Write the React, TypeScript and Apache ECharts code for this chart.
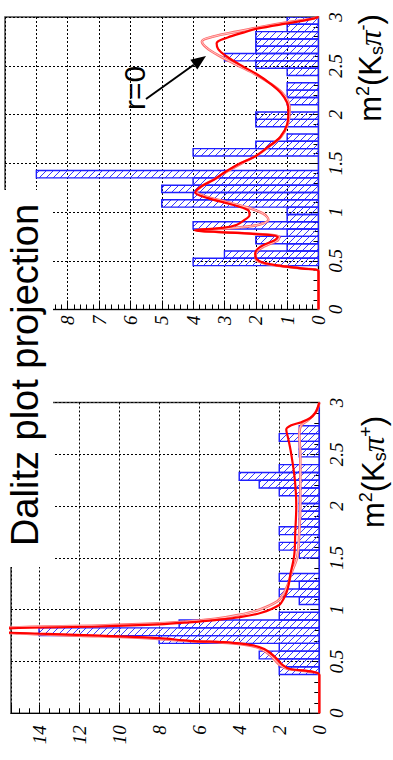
import React, { useEffect, useRef } from 'react';
import * as echarts from 'echarts';

// ---- data -------------------------------------------------------------
const BIN_WIDTH = 0.075; // 40 bins from 0 to 3 GeV^2

// m^2(Ks pi-) histogram (top-right panel)
const kmCounts = [
  0, 0, 0, 0, 0, 0, 4, 3, 1, 2,
  1, 4, 1, 1, 5, 4, 5, 4, 9, 0,
  0, 4, 2, 1, 0, 2, 2, 0, 1, 1,
  1, 0, 1, 2, 3, 2, 2, 2, 1, 1,
];

// m^2(Ks pi+) histogram (bottom-left panel)
const kpCounts = [
  0, 0, 0, 0, 0, 2, 2, 3, 2, 8,
  14, 7, 2, 0, 1, 2, 1, 2, 0, 0,
  1, 2, 1, 2, 1, 1, 1, 1, 2, 3,
  4, 2, 0, 1, 1, 2, 1, 0, 0, 0,
];

// fit projections: [m^2, events per bin]
const kmFit: [number, number][] = [
  [0, 0], [0.39, 0], [0.42, 0.5], [0.45, 1.25], [0.48, 1.75], [0.515, 1.97], [0.575, 2.02],
  [0.645, 1.85], [0.71, 1.4], [0.745, 1.3], [0.78, 2.3], [0.812, 3.95], [0.84, 3.0],
  [0.87, 2.6], [0.91, 2.4], [0.97, 2.2], [1.02, 2.25], [1.08, 2.8], [1.14, 3.5], [1.2, 3.93],
  [1.26, 3.75], [1.33, 3.35], [1.4, 3.03], [1.5, 2.5], [1.57, 2.02], [1.67, 1.6], [1.77, 1.22],
  [1.9, 1.0], [2.04, 0.96], [2.12, 1.0], [2.22, 1.2], [2.32, 1.55], [2.41, 1.95], [2.5, 2.45],
  [2.6, 2.95], [2.67, 3.2], [2.73, 3.25], [2.79, 2.9], [2.84, 2.4], [2.88, 1.96], [2.94, 0.9],
  [2.98, 0.2], [3, 0],
];
const kmFitR0: [number, number][] = [
  [0, 0], [0.39, 0], [0.42, 0.5], [0.45, 1.3], [0.48, 1.8], [0.515, 2.0], [0.575, 2.0],
  [0.645, 1.75], [0.71, 1.3], [0.745, 1.25], [0.78, 2.2], [0.812, 3.9], [0.84, 2.6],
  [0.87, 1.9], [0.92, 1.6], [0.98, 1.75], [1.04, 2.2], [1.1, 2.9], [1.16, 3.6], [1.21, 3.9],
  [1.27, 3.7], [1.33, 3.35], [1.4, 3.0], [1.5, 2.45], [1.57, 2.02], [1.67, 1.58], [1.77, 1.2],
  [1.9, 0.98], [2.04, 0.92], [2.12, 0.95], [2.22, 1.15], [2.32, 1.55], [2.41, 2.0], [2.5, 2.55],
  [2.6, 3.15], [2.68, 3.55], [2.75, 3.72], [2.8, 3.35], [2.85, 2.6], [2.9, 1.8], [2.95, 0.9],
  [2.98, 0.25], [3, 0],
];
const kpFit: [number, number][] = [
  [0, 0], [0.37, 0], [0.4, 0.3], [0.43, 1.5], [0.47, 1.85], [0.5, 2.0], [0.56, 2.3],
  [0.62, 2.75], [0.655, 3.3], [0.68, 4.3], [0.7, 6.5], [0.725, 8.0], [0.75, 11], [0.77, 14],
  [0.795, 17.5], [0.82, 15.5], [0.838, 11], [0.858, 8], [0.878, 6.5], [0.9, 5.2], [0.927, 4],
  [0.97, 2.9], [1.045, 2.0], [1.1, 1.8], [1.17, 1.63], [1.25, 1.52], [1.335, 1.45], [1.53, 1.25],
  [1.75, 1.2], [2.0, 1.15], [2.25, 1.22], [2.5, 1.4], [2.65, 1.55], [2.74, 1.65], [2.78, 1.4],
  [2.81, 0.9], [2.85, 0.45], [2.9, 0.2], [2.95, 0.08], [3, 0],
];
const kpFitR0: [number, number][] = [
  [0, 0], [0.37, 0], [0.4, 0.4], [0.43, 1.6], [0.47, 2.0], [0.5, 2.15], [0.56, 2.45],
  [0.62, 2.9], [0.655, 3.5], [0.68, 4.6], [0.7, 6.8], [0.725, 8.6], [0.75, 12], [0.77, 15],
  [0.8, 17], [0.828, 15.6], [0.848, 11], [0.868, 8], [0.888, 6.5], [0.912, 5.2], [0.95, 4],
  [1.0, 3.0], [1.08, 2.1], [1.15, 1.8], [1.25, 1.55], [1.35, 1.4], [1.51, 1.1], [1.75, 1.0],
  [2.0, 0.95], [2.25, 0.95], [2.5, 0.95], [2.7, 1.0], [2.78, 0.9], [2.83, 0.55], [2.9, 0.2],
  [2.95, 0.07], [3, 0],
];

const kmAxisMax = 10;
const kpAxisMax = 15.4;
const m2Max = 3;

// ---- helpers -----------------------------------------------------------
const HATCH_STEP = 7;
const HATCH_COLOR = '#3a3aff';
const OUTLINE_COLOR = '#1f1fff';

function binData(counts: number[]) {
  const first = counts.findIndex((c) => c > 0);
  return counts
    .map((c, i) => [i * BIN_WIDTH, (i + 1) * BIN_WIDTH, c])
    .filter((_, i) => i >= first);
}

function renderHatchedBin(_params: any, api: any) {
  const lo = api.value(0);
  const hi = api.value(1);
  const v = api.value(2);
  const a = api.coord([0, lo]);
  const b = api.coord([v, hi]);
  const x0 = Math.min(a[0], b[0]);
  const x1 = Math.max(a[0], b[0]);
  const y0 = Math.min(a[1], b[1]);
  const y1 = Math.max(a[1], b[1]);
  const children: any[] = [];
  if (x1 - x0 > 0.5) {
    const cStart = Math.ceil((x0 + y0) / HATCH_STEP) * HATCH_STEP;
    for (let c = cStart; c <= x1 + y1; c += HATCH_STEP) {
      const xa = Math.max(x0, c - y1);
      const xb = Math.min(x1, c - y0);
      if (xb - xa > 0.3) {
        children.push({
          type: 'line',
          shape: { x1: xa, y1: c - xa, x2: xb, y2: c - xb },
          style: { stroke: HATCH_COLOR, lineWidth: 1 },
        });
      }
    }
  }
  children.push({
    type: 'rect',
    shape: { x: x0, y: y0, width: x1 - x0, height: y1 - y0 },
    style: { fill: 'none', stroke: OUTLINE_COLOR, lineWidth: 1.4 },
  });
  return { type: 'group', children };
}

const labelFont = {
  fontFamily: '"Liberation Serif", serif',
  fontStyle: 'italic' as const,
  fontSize: 19,
  color: '#000',
};
const dashed = { color: '#000', width: 1, type: [2, 2] as number[] };

function valueAxis(gridIndex: number, max: number, interval: number, minorSplit: number, margin: number) {
  return {
    gridIndex,
    type: 'value',
    inverse: true,
    min: 0,
    max,
    interval,
    position: 'bottom',
    axisLine: { show: true, onZero: false, lineStyle: { color: '#000', width: 1 } },
    axisTick: { show: true, inside: true, length: 9, lineStyle: { color: '#000' } },
    minorTick: { show: true, splitNumber: minorSplit, length: 5, lineStyle: { color: '#000' } },
    axisLabel: { ...labelFont, rotate: 90, margin, showMaxLabel: false },
    splitLine: { show: true, lineStyle: dashed },
  };
}

function m2Axis(gridIndex: number, margin: number) {
  return {
    gridIndex,
    type: 'value',
    min: 0,
    max: m2Max,
    interval: 0.5,
    position: 'right',
    axisLine: { show: true, onZero: false, lineStyle: { color: '#000', width: 1 } },
    axisTick: { show: true, inside: true, length: 9, lineStyle: { color: '#000' } },
    minorTick: { show: true, splitNumber: 5, length: 5, lineStyle: { color: '#000' } },
    axisLabel: { ...labelFont, rotate: 90, margin },
    splitLine: { show: true, lineStyle: dashed },
  };
}

function curveSeries(axis: number, pts: [number, number][], color: string, width: number, z: number) {
  return {
    type: 'line',
    xAxisIndex: axis,
    yAxisIndex: axis,
    data: pts.map(([m, v]) => [v, m]),
    symbol: 'none',
    showSymbol: false,
    smooth: 0.35,
    clip: true,
    silent: true,
    z,
    lineStyle: { color, width },
  };
}

function histSeries(axis: number, counts: number[]) {
  return {
    type: 'custom',
    coordinateSystem: 'cartesian2d',
    xAxisIndex: axis,
    yAxisIndex: axis,
    encode: { x: 2, y: [0, 1] },
    data: binData(counts),
    renderItem: renderHatchedBin,
    clip: true,
    silent: true,
    z: 2,
  };
}

function axisTitle(x: number, y: number, charge: string) {
  return {
    type: 'text',
    x,
    y,
    rotation: Math.PI / 2,
    z: 110,
    style: {
      text: `{m|m}{sup|2}{m|(K}{sub|s}{pi|π}{sup|${charge}}{m|)}`,
      align: 'center',
      verticalAlign: 'middle',
      fill: '#000',
      rich: {
        m: { fontSize: 31, fontFamily: '"Liberation Sans", sans-serif', lineHeight: 32, fill: '#000' },
        pi: { fontSize: 31, fontFamily: '"Liberation Serif", serif', fontStyle: 'italic', lineHeight: 32, fill: '#000' },
        sup: { fontSize: 18, fontFamily: '"Liberation Sans", sans-serif', lineHeight: 18, verticalAlign: 'top', fill: '#000' },
        sub: { fontSize: 18, fontFamily: '"Liberation Sans", sans-serif', lineHeight: 18, verticalAlign: 'bottom', fill: '#000' },
      },
    },
  };
}

export default function App() {
  const ref = useRef<HTMLDivElement>(null);

  useEffect(() => {
    if (!ref.current) return;
    const chart = echarts.init(ref.current, undefined, { renderer: 'svg' });

    // arrow geometry for the "r=0" annotation
    const tip = [206, 56];
    const tail = [146, 99];
    const dx = tip[0] - tail[0];
    const dy = tip[1] - tail[1];
    const len = Math.hypot(dx, dy);
    const ux = dx / len;
    const uy = dy / len;
    const headLen = 15;
    const headHalf = 6;
    const base = [tip[0] - ux * headLen, tip[1] - uy * headLen];

    chart.setOption({
      animation: false,
      backgroundColor: '#fff',
      grid: [
        { left: 5, top: 17, width: 313.5, height: 292.5, show: true, borderColor: '#444', borderWidth: 1.5, containLabel: false },
        { left: 11, top: 402.5, width: 308.3, height: 310.8, show: true, borderColor: '#444', borderWidth: 1.5, containLabel: false },
      ],
      xAxis: [valueAxis(0, kmAxisMax, 1, 5, 6), valueAxis(1, kpAxisMax, 2, 4, 12)],
      yAxis: [m2Axis(0, 7), m2Axis(1, 8)],
      series: [
        histSeries(0, kmCounts),
        curveSeries(0, kmFitR0, '#ff6a6a', 2.6, 3),
        curveSeries(0, kmFitR0, '#ffe0e0', 0.8, 4),
        curveSeries(0, kmFit, '#ff0000', 2.2, 5),
        histSeries(1, kpCounts),
        curveSeries(1, kpFitR0, '#ff6a6a', 2.6, 3),
        curveSeries(1, kpFitR0, '#ffe0e0', 0.8, 4),
        curveSeries(1, kpFit, '#ff0000', 2.2, 5),
      ],
      graphic: [
        { type: 'rect', shape: { x: 0, y: 190, width: 53, height: 377 }, style: { fill: '#fff' }, z: 100 },
        {
          type: 'text',
          x: 25,
          y: 375,
          rotation: Math.PI / 2,
          z: 110,
          style: {
            text: 'Dalitz plot projection',
            fontSize: 38,
            fontFamily: '"Liberation Sans", sans-serif',
            fill: '#000',
            align: 'center',
            verticalAlign: 'middle',
          },
        },
        axisTitle(373, 472, '+'),
        axisTitle(370, 68, '-'),
        {
          type: 'text',
          x: 134,
          y: 88,
          rotation: Math.PI / 2,
          z: 110,
          style: {
            text: 'r=0',
            fontSize: 30,
            fontFamily: '"Liberation Sans", sans-serif',
            fill: '#000',
            align: 'center',
            verticalAlign: 'middle',
          },
        },
        {
          type: 'line',
          z: 110,
          shape: { x1: tail[0], y1: tail[1], x2: base[0], y2: base[1] },
          style: { stroke: '#000', lineWidth: 2 },
        },
        {
          type: 'polygon',
          z: 110,
          shape: {
            points: [
              tip,
              [base[0] + uy * headHalf, base[1] - ux * headHalf],
              [base[0] - uy * headHalf, base[1] + ux * headHalf],
            ],
          },
          style: { fill: '#000' },
        },
      ],
    });

    return () => {
      chart.dispose();
    };
  }, []);

  return (
    <div
      ref={ref}
      style={{ position: 'fixed', left: 0, top: 0, width: 393, height: 760, background: '#fff' }}
    />
  );
}
